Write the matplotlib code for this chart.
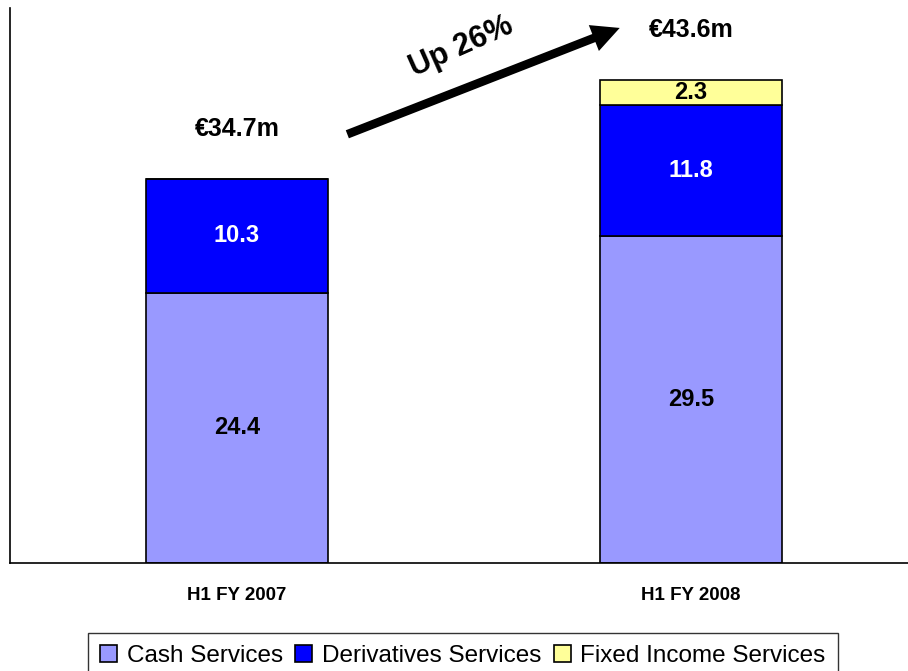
import matplotlib
matplotlib.use("Agg")
import matplotlib.pyplot as plt
import numpy as np

plt.rcParams['font.family'] = ['Liberation Sans', 'DejaVu Sans']

categories = ["H1 FY 2007", "H1 FY 2008"]
cash = [24.4, 29.5]
derivatives = [10.3, 11.8]
fixed_income = [0.0, 2.3]
totals = ["€34.7m", "€43.6m"]
series_names = ["Cash Services", "Derivatives Services", "Fixed Income Services"]
growth_label = "Up 26%"

colors = ["#9999FF", "#0000FF", "#FFFF99"]
text_colors = ["black", "white", "black"]

fig = plt.figure(figsize=(9.08, 6.71), dpi=100)
ax = fig.add_axes([10/908, 108/671, 1.0, 555/671])

x = np.arange(len(categories))
width = 0.4
bottom = np.zeros(len(categories))
handles = []
for vals, col, tcol, name in zip([cash, derivatives, fixed_income], colors, text_colors, series_names):
    vals = np.array(vals)
    bars = ax.bar(x, vals, width, bottom=bottom, color=col, edgecolor="black", linewidth=1.2, label=name)
    handles.append(bars)
    for xi, v, b in zip(x, vals, bottom):
        if v > 0:
            ax.text(xi, b + v / 2, f"{v:.1f}", ha="center", va="center",
                    fontsize=17, fontweight="bold", color=tcol)
    bottom = bottom + vals

for xi, tot, lab in zip(x, bottom, totals):
    ax.text(xi, tot + 4.5, lab, ha="center", va="center", fontsize=18, fontweight="bold")

ax.annotate("", xy=(0.843, 48.3), xytext=(0.243, 38.7),
            arrowprops=dict(arrowstyle="simple,head_length=2.0,head_width=2.0,tail_width=0.62",
                            mutation_scale=10, lw=0, facecolor="black", edgecolor="none",
                            shrinkA=0, shrinkB=0))
ax.text(0.494, 46.6, growth_label, ha="center", va="center", rotation=24,
        fontsize=22, fontweight="bold")

ax.set_xlim(-0.5, 1.5)
ax.set_ylim(0, 50.1)
ax.set_xticks(x)
ax.set_xticklabels(categories, fontsize=13.5, fontweight="bold")
ax.tick_params(axis="x", length=0, pad=17)
ax.set_yticks([])
ax.spines["top"].set_visible(False)
ax.spines["right"].set_visible(False)
ax.spines["left"].set_linewidth(1.2)
ax.spines["bottom"].set_linewidth(1.2)

leg = fig.legend(handles=handles, labels=series_names, loc="upper center",
                 bbox_to_anchor=(0.51, 1 - 633/671), ncol=3, fontsize=17.5,
                 frameon=True, fancybox=False, edgecolor="black",
                 handlelength=0.7, handleheight=0.7, handletextpad=0.4,
                 columnspacing=0.5, borderpad=0.5, borderaxespad=0)
leg.get_frame().set_linewidth(1.0)

fig.savefig("out.png", dpi=100)
